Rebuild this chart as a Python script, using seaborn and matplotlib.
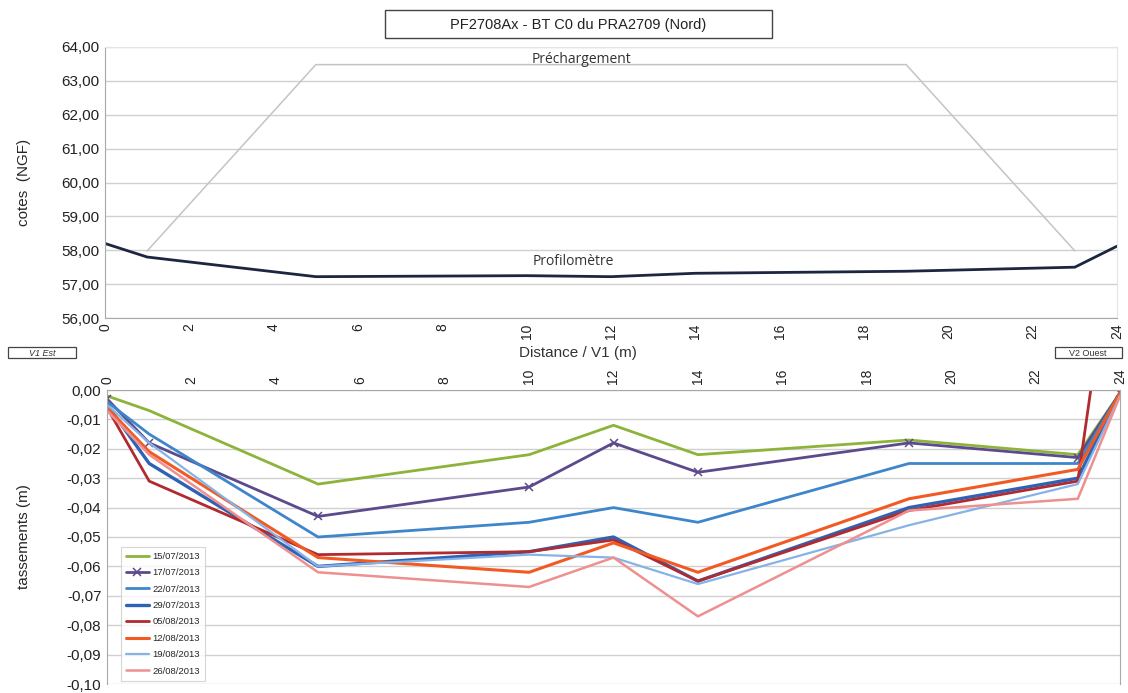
import pandas as pd
import numpy as np
import matplotlib
matplotlib.use("Agg")
import matplotlib.pyplot as plt
from matplotlib.patches import Rectangle
import seaborn as sns

sns.set_style("white")
plt.rcParams['font.family'] = ['Liberation Sans', 'DejaVu Sans']

# data -- top chart (cotes NGF)
dist = [0, 1, 5, 10, 12, 14, 19, 23, 24]
profilometre = [58.20, 57.80, 57.22, 57.25, 57.22, 57.32, 57.38, 57.50, 58.12]
prech_x = [1, 5, 19, 23]
prech_y = [57.98, 63.48, 63.48, 57.98]

# data -- bottom chart (tassements m)
dates = ['15/07/2013', '17/07/2013', '22/07/2013', '29/07/2013',
         '05/08/2013', '12/08/2013', '19/08/2013', '26/08/2013']
t_1507 = [-0.002, -0.007, -0.032, -0.022, -0.012, -0.022, -0.017, -0.022, -0.001]
t_1707 = [-0.003, -0.018, -0.043, -0.033, -0.018, -0.028, -0.018, -0.023, -0.001]
t_2207 = [-0.004, -0.015, -0.050, -0.045, -0.040, -0.045, -0.025, -0.025, -0.001]
t_2907 = [-0.005, -0.025, -0.060, -0.055, -0.050, -0.065, -0.040, -0.030, -0.001]
t_0508 = [-0.006, -0.031, -0.056, -0.055, -0.051, -0.065, -0.041, -0.031, 0.070]
t_1208 = [-0.006, -0.021, -0.057, -0.062, -0.052, -0.062, -0.037, -0.027, -0.001]
t_1908 = [-0.005, -0.018, -0.060, -0.056, -0.057, -0.066, -0.046, -0.032, -0.002]
t_2608 = [-0.007, -0.022, -0.062, -0.067, -0.057, -0.077, -0.041, -0.037, -0.002]
series = [t_1507, t_1707, t_2207, t_2907, t_0508, t_1208, t_1908, t_2608]
colors = ['#8DB33A', '#5B4A8C', '#3D86CC', '#2F62B5', '#B02A30', '#F25A24', '#86B3E6', '#EE9090']
widths = [2.0, 2.0, 2.0, 2.4, 2.0, 2.2, 1.6, 1.8]

fig = plt.figure(figsize=(11.28, 6.93), dpi=100)
W, H = 1128, 693

def box(l, t, r, b):
    return [l / W, 1 - b / H, (r - l) / W, (b - t) / H]

def fig_rect(l, t, r, b, lw=1.0):
    fig.add_artist(Rectangle((l / W, 1 - b / H), (r - l) / W, (b - t) / H,
                             transform=fig.transFigure, fc='white', ec='#444444', lw=lw))

grid_c = '#D0D0D0'
spine_c = '#A8A8A8'

# ---------- top chart
ax1 = fig.add_axes(box(105, 47, 1117, 318))
sns.lineplot(x=prech_x, y=prech_y, ax=ax1, color='#C4C4C4', linewidth=1.1)
sns.lineplot(x=dist, y=profilometre, ax=ax1, color='#1C2640', linewidth=2.0)
ax1.set_xlim(0, 24)
ax1.set_ylim(56, 64)
ax1.set_xticks(range(0, 25, 2))
ax1.set_yticks(range(56, 65))
ax1.set_yticklabels([f"{v},00" for v in range(56, 65)], fontsize=11)
ax1.set_xticklabels([str(v) for v in range(0, 25, 2)], rotation=90, fontsize=10)
ax1.yaxis.grid(True, color=grid_c, linewidth=1)
for s in ['left', 'bottom', 'right', 'top']:
    ax1.spines[s].set_color(spine_c if s in ('left', 'bottom') else '#E4E4E4')
ax1.tick_params(axis='both', length=0, pad=4, colors='#222222')
ax1.set_ylabel('cotes  (NGF)', fontsize=11, labelpad=22)
ax1.text(11.3, 63.64, 'Préchargement', ha='center', va='center', fontsize=10,
         family=['Open Sans', 'DejaVu Sans'], color='#333333')
ax1.text(11.1, 57.66, 'Profilomètre', ha='center', va='center', fontsize=10,
         family=['Open Sans', 'DejaVu Sans'], color='#333333')

# ---------- bottom chart
ax2 = fig.add_axes(box(107, 390, 1120, 684))
for lab, vals, c, lw in zip(dates, series, colors, widths):
    mk = 'x' if lab == '17/07/2013' else None
    sns.lineplot(x=dist, y=vals, ax=ax2, color=c, linewidth=lw, label=lab,
                 marker=mk, markersize=6, markeredgewidth=1.1, markeredgecolor=c)
ax2.set_xlim(0, 24)
ax2.set_ylim(-0.10, 0.0)
ax2.set_xticks(range(0, 25, 2))
ax2.set_xticklabels([str(v) for v in range(0, 25, 2)], rotation=90, fontsize=10)
ax2.xaxis.tick_top()
yt = np.round(np.arange(-0.10, 0.001, 0.01), 2)
ax2.set_yticks(yt)
ax2.set_yticklabels([f"{v:.2f}".replace('.', ',') if v != 0 else "0,00" for v in yt], fontsize=11)
ax2.yaxis.grid(True, color=grid_c, linewidth=1)
for s in ['left', 'top', 'right']:
    ax2.spines[s].set_color(spine_c)
ax2.spines['bottom'].set_visible(False)
ax2.tick_params(axis='both', length=0, pad=4, colors='#222222')
ax2.set_ylabel('tassements (m)', fontsize=11, labelpad=26)
leg = ax2.legend(loc='lower left', bbox_to_anchor=(0.009, -0.005), fontsize=6.8,
                 frameon=True, fancybox=False, handlelength=2.4, labelspacing=0.78,
                 borderpad=0.55, handletextpad=0.4)
leg.get_frame().set_edgecolor('#CCCCCC')
leg.get_frame().set_linewidth(0.8)

# ---------- captions
fig_rect(385, 10, 772, 38)
fig.text(578 / W, 1 - 25 / H, 'PF2708Ax - BT C0 du PRA2709 (Nord)', ha='center', va='center',
         fontsize=10.5, color='#222222')
fig.text(578 / W, 1 - 353 / H, 'Distance / V1 (m)', ha='center', va='center', fontsize=11,
         color='#333333')
fig_rect(8, 347, 76, 358, lw=0.9)
fig.text(42 / W, 1 - 354 / H, 'V1 Est', ha='center', va='center', fontsize=6.5, style='italic',
         color='#333333')
fig_rect(1055, 347, 1122, 358, lw=0.9)
fig.text(1088 / W, 1 - 354 / H, 'V2 Ouest', ha='center', va='center', fontsize=6.5,
         color='#333333')

fig.savefig('out.png', dpi=100)
